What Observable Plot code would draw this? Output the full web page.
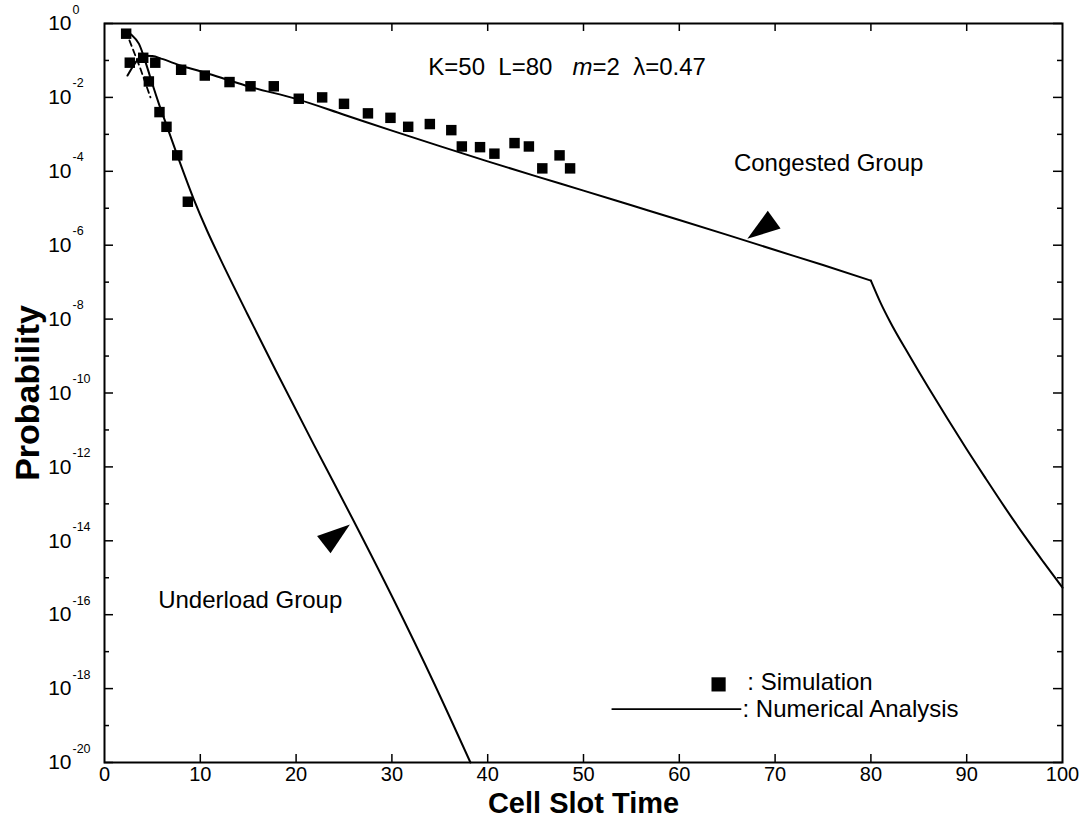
<!DOCTYPE html>
<html>
<head>
<meta charset="utf-8">
<script src="https://cdn.jsdelivr.net/npm/d3@7"></script>
<script src="https://cdn.jsdelivr.net/npm/@observablehq/plot@0.6"></script>
<style>
  html, body { margin: 0; padding: 0; background: #fff; }
  #chart svg { display: block; }
</style>
</head>
<body>
<div id="chart"></div>
<script>
// ---------------- data ----------------
// Numerical analysis, underload group
const underX = [2.0, 2.8, 3.6, 4.45, 5.0, 5.67, 6.5, 7.6, 9.3, 10.7, 12.1, 14.9, 17.85, 21.85, 26.0, 30.2, 34.4, 38.2];
const underP = [0.66, 0.5, 0.28, 6.6e-2, 2.3e-2, 6.8e-3, 1.7e-3, 2.7e-4, 1.8e-5, 2.5e-6, 4.2e-7, 1.4e-8, 4.2e-10, 4.0e-12, 3.5e-14, 2.5e-16, 1.4e-18, 1e-20];

// Numerical analysis, congested group
const congX = [2.4, 3.2, 3.9, 5.0, 6.0, 8.0, 10, 12.5, 15, 20, 25, 30, 35, 40, 45, 50, 55, 60, 65, 70, 75, 80, 81, 82, 84, 86, 88, 90, 92, 94, 96, 98, 100];
const congP = [3.9e-2, 8.5e-2, 1.35e-1, 1.32e-1, 1.1e-1, 7.2e-2, 5.1e-2, 3.2e-2, 2.0e-2, 9.1e-3, 3.4e-3, 1.26e-3, 4.8e-4, 1.86e-4, 7.4e-5, 3.0e-5, 1.2e-5, 4.8e-6, 1.9e-6, 7.4e-7, 2.9e-7, 1.1e-7, 2.8e-8, 8.5e-9, 1.05e-9, 1.4e-10, 2.0e-11, 3.0e-12, 4.8e-13, 7.9e-14, 1.4e-14, 2.7e-15, 5.4e-16];

// Short dashed curve near the origin
const dashX = [2.6, 3.7, 4.8];
const dashP = [0.35, 6.5e-2, 1.0e-2];

// Simulation points
const simUnderX = [2.26, 4.04, 4.63, 5.74, 6.47, 7.59, 8.7];
const simUnderP = [0.53, 0.118, 0.027, 0.004, 0.0016, 2.7e-4, 1.5e-5];
const simCongX = [2.64, 5.3, 8.0, 10.47, 13.05, 15.24, 17.67, 20.28, 22.72, 25.0, 27.5, 29.85, 31.7, 33.96, 36.2, 37.3, 39.2, 40.7, 42.8, 44.3, 45.7, 47.5, 48.6];
const simCongP = [0.087, 0.087, 0.056, 0.039, 0.026, 0.02, 0.02, 0.0092, 0.010, 0.0067, 0.0037, 0.0028, 0.0016, 0.0019, 0.0013, 4.7e-4, 4.5e-4, 3.0e-4, 5.8e-4, 4.7e-4, 1.2e-4, 2.7e-4, 1.2e-4];

// Axis ticks
const xTicks = [0, 10, 20, 30, 40, 50, 60, 70, 80, 90, 100];
const xInnerTicks = [10, 20, 30, 40, 50, 60, 70, 80, 90];
const yMajor = [1, 1e-2, 1e-4, 1e-6, 1e-8, 1e-10, 1e-12, 1e-14, 1e-16, 1e-18, 1e-20];
const yMajorExp = ["0", "-2", "-4", "-6", "-8", "-10", "-12", "-14", "-16", "-18", "-20"];
const yMinor = [1e-1, 1e-3, 1e-5, 1e-7, 1e-9, 1e-11, 1e-13, 1e-15, 1e-17, 1e-19];

// Annotations (data coordinates)
const labelX = [33.8, 65.7, 5.6, 67.1, 66.6];
const labelP = [6.6e-2, 1.6e-4, 2.5e-16, 1.5e-18, 2.8e-19];
const labelText = ["K=50\u00a0\u00a0L=80\u00a0\u00a0\u00a0m=2\u00a0\u00a0λ=0.47", "Congested Group", "Underload Group", ": Simulation", ": Numerical Analysis"];
const legendSquare = [{x: 64.1, p: 1.3e-18}];
const legendLine = [{x: 53.0, p: 2.8e-19}, {x: 66.4, p: 2.8e-19}];
const arrowCong = [{x: 68.97, p: 3.3e-6}];
const arrowUnder = [{x: 23.8, p: 1.2e-14}];

// ---------------- build ----------------
const rows = (xs, ps) => xs.map((x, i) => ({x, p: ps[i]}));
const W = 1088, H = 827;
const M = {top: 23, right: 26, bottom: 65, left: 104};
const iw = W - M.left - M.right;
const ih = H - M.top - M.bottom;

const arrowHead = {
  draw(ctx) {
    ctx.moveTo(22, 0);
    ctx.lineTo(-11, -11);
    ctx.lineTo(-11, 11);
    ctx.closePath();
  }
};

const labels = labelX.map((x, i) => ({x, p: labelP[i], text: labelText[i]}));
const congRows = rows(congX, congP);

const chart = Plot.plot({
  width: W,
  height: H,
  marginTop: M.top,
  marginRight: M.right,
  marginBottom: M.bottom,
  marginLeft: M.left,
  style: {fontFamily: "'Liberation Sans', Arial, Helvetica, sans-serif", background: "#fff", color: "#000"},
  x: {type: "linear", domain: [0, 100], axis: null},
  y: {type: "log", domain: [1e-20, 1], axis: null},
  marks: [
    Plot.frame({stroke: "#000", strokeWidth: 2}),
    // x ticks (bottom + top, inward)
    Plot.tickX(xInnerTicks, {x: d => d, insetTop: ih - 8, stroke: "#000", strokeWidth: 1.5}),
    Plot.tickX(xInnerTicks, {x: d => d, insetBottom: ih - 8, stroke: "#000", strokeWidth: 1.5}),
    // y ticks (left + right, inward)
    Plot.tickY(yMajor, {y: d => d, insetRight: iw - 9, stroke: "#000", strokeWidth: 1.5}),
    Plot.tickY(yMinor, {y: d => d, insetRight: iw - 5, stroke: "#000", strokeWidth: 1.5}),
    Plot.tickY(yMajor, {y: d => d, insetLeft: iw - 9, stroke: "#000", strokeWidth: 1.5}),
    Plot.tickY(yMinor, {y: d => d, insetLeft: iw - 5, stroke: "#000", strokeWidth: 1.5}),
    // x tick labels
    Plot.text(xTicks, {x: d => d, frameAnchor: "bottom", dy: 18, text: d => String(d), textAnchor: "middle", fontSize: 20, fill: "#000"}),
    // y tick labels: 10 with superscript exponent
    Plot.text(yMajor, {y: d => d, frameAnchor: "left", dx: -33, text: () => "10", textAnchor: "end", fontSize: 21, fill: "#000"}),
    Plot.text(yMajor, {y: d => d, frameAnchor: "left", dx: -32, dy: -14, text: (d, i) => yMajorExp[i], textAnchor: "start", fontSize: 12.5, fill: "#000"}),
    // axis titles
    Plot.text(["Cell Slot Time"], {frameAnchor: "bottom", dy: 50, text: d => d, textAnchor: "middle", fontSize: 29, fontWeight: "bold", fill: "#000"}),
    Plot.text(["Probability"], {frameAnchor: "left", dx: -76, rotate: -90, text: d => d, textAnchor: "middle", fontSize: 34, fontWeight: "bold", fill: "#000"}),
    // curves
    Plot.line(rows(underX, underP), {x: "x", y: "p", stroke: "#000", strokeWidth: 2, curve: "monotone-x"}),
    Plot.line(congRows.filter(d => d.x <= 80), {x: "x", y: "p", stroke: "#000", strokeWidth: 2, curve: "monotone-x"}),
    Plot.line(congRows.filter(d => d.x >= 80), {x: "x", y: "p", stroke: "#000", strokeWidth: 2, curve: "monotone-x"}),
    Plot.line(rows(dashX, dashP), {x: "x", y: "p", stroke: "#000", strokeWidth: 1.8, strokeDasharray: "6,4"}),
    // simulation squares
    Plot.dot(rows(simUnderX, simUnderP), {x: "x", y: "p", symbol: "square", r: 5.9, fill: "#000", stroke: "none"}),
    Plot.dot(rows(simCongX, simCongP), {x: "x", y: "p", symbol: "square", r: 5.9, fill: "#000", stroke: "none"}),
    // arrows
    Plot.dot(arrowCong, {x: "x", y: "p", symbol: arrowHead, rotate: 144.4, fill: "#000", stroke: "none"}),
    Plot.dot(arrowUnder, {x: "x", y: "p", symbol: arrowHead, rotate: -37.7, fill: "#000", stroke: "none"}),
    // legend
    Plot.dot(legendSquare, {x: "x", y: "p", symbol: "square", r: 8, fill: "#000", stroke: "none"}),
    Plot.line(legendLine, {x: "x", y: "p", stroke: "#000", strokeWidth: 1.8}),
    // labels
    Plot.text(labels, {x: "x", y: "p", text: "text", textAnchor: "start", fontSize: 24, fill: "#000"})
  ]
});

document.getElementById("chart").appendChild(chart);

// italic "m" in the parameter label
d3.select(chart).selectAll("text")
  .filter(function () { return this.textContent.startsWith("K=50"); })
  .each(function () {
    const t = d3.select(this);
    t.text(null);
    t.append("tspan").text("K=50\u00a0\u00a0L=80\u00a0\u00a0\u00a0");
    t.append("tspan").attr("font-style", "italic").text("m");
    t.append("tspan").text("=2\u00a0\u00a0λ=0.47");
  });
</script>
</body>
</html>
